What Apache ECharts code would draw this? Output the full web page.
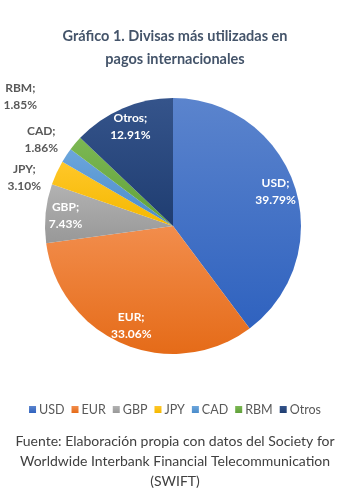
<!DOCTYPE html>
<html><head><meta charset="utf-8">
<script src="https://cdn.jsdelivr.net/npm/echarts@6/dist/echarts.min.js"></script>
<style>html,body{margin:0;padding:0;background:#fff}#c{width:350px;height:494px}</style>
</head><body><div id="c"></div>
<script>
const categories = ['USD','EUR','GBP','JPY','CAD','RBM','Otros'];
const values = [39.79, 33.06, 7.43, 3.10, 1.86, 1.85, 12.91];
const insideLabels = ['USD','EUR','GBP','Otros'];
const outsideLabels = ['JPY','CAD','RBM'];
const titleText = 'Gráfico 1. Divisas más utilizadas en\npagos internacionales';
const sourceText = 'Fuente: Elaboración propia con datos del Society for\nWorldwide Interbank Financial Telecommunication\n(SWIFT)';

const colorsTop = ['#5B84CD','#F28D4C','#B2B2B2','#FFC729','#6CA6DC','#7CB853','#35548B'];
const colorsBot = ['#2F62BF','#E56B18','#989898','#F4B800','#4A8BCA','#60A03A','#1F3D71'];
const font = 'Lato, "Open Sans", sans-serif';
const center = [173, 226];

const grad = i => new echarts.graphic.LinearGradient(0,0,0,1,[{offset:0,color:colorsTop[i]},{offset:1,color:colorsBot[i]}]);
const fmt = p => p.name + ';\n' + p.value.toFixed(2) + '%';

const mainData = categories.map((n,i)=>({name:n, value:values[i], itemStyle:{color:grad(i)}}));
const innerLabelData = categories.map((n,i)=>({name:n, value:values[i], itemStyle:{color:'transparent'},
  label:{show: insideLabels.includes(n)}}));
const outerLabelData = categories.map((n,i)=>({name:n, value:values[i], itemStyle:{color:'transparent'},
  label:{show: outsideLabels.includes(n), offset: n==='JPY'?[-5,17]:(n==='RBM'?[-32,-27]:[0,1])}}));

const chart = echarts.init(document.getElementById('c'), null, {renderer:'canvas'});
chart.setOption({
  animation:false,
  color: colorsBot,
  title:[{
    text:titleText, left:'center', top:20,
    textStyle:{fontFamily:font, fontSize:14.5, fontWeight:'bold', color:'#44546A', lineHeight:23}
  },{
    text:sourceText, left:'center', top:426,
    textStyle:{fontFamily:font, fontSize:14, fontWeight:'normal', color:'#404040', lineHeight:20}
  }],
  legend:{
    data:categories, top:398, left:'center', icon:'rect', itemWidth:7, itemHeight:7, itemGap:7,
    textStyle:{fontFamily:font, fontSize:12.5, color:'#595959', padding:[0,0,0,-2]}
  },
  series:[{
    type:'pie', center:center, radius:[0,128], startAngle:90, clockwise:true,
    silent:true, label:{show:false}, labelLine:{show:false},
    data:mainData
  },{
    type:'pie', center:center, radius:[100,110], startAngle:90, clockwise:true, silent:true,
    avoidLabelOverlap:false, labelLine:{show:false}, legendHoverLink:false,
    label:{position:'inside', formatter:fmt, color:'#fff', fontFamily:font, fontSize:12, fontWeight:'bold', lineHeight:17},
    data:innerLabelData
  },{
    type:'pie', center:center, radius:[150,160], startAngle:90, clockwise:true, silent:true,
    avoidLabelOverlap:false, labelLine:{show:false}, legendHoverLink:false,
    label:{position:'inside', formatter:fmt, color:'#595959', fontFamily:font, fontSize:12, fontWeight:'bold', lineHeight:17},
    data:outerLabelData
  }]
});
</script></body></html>
